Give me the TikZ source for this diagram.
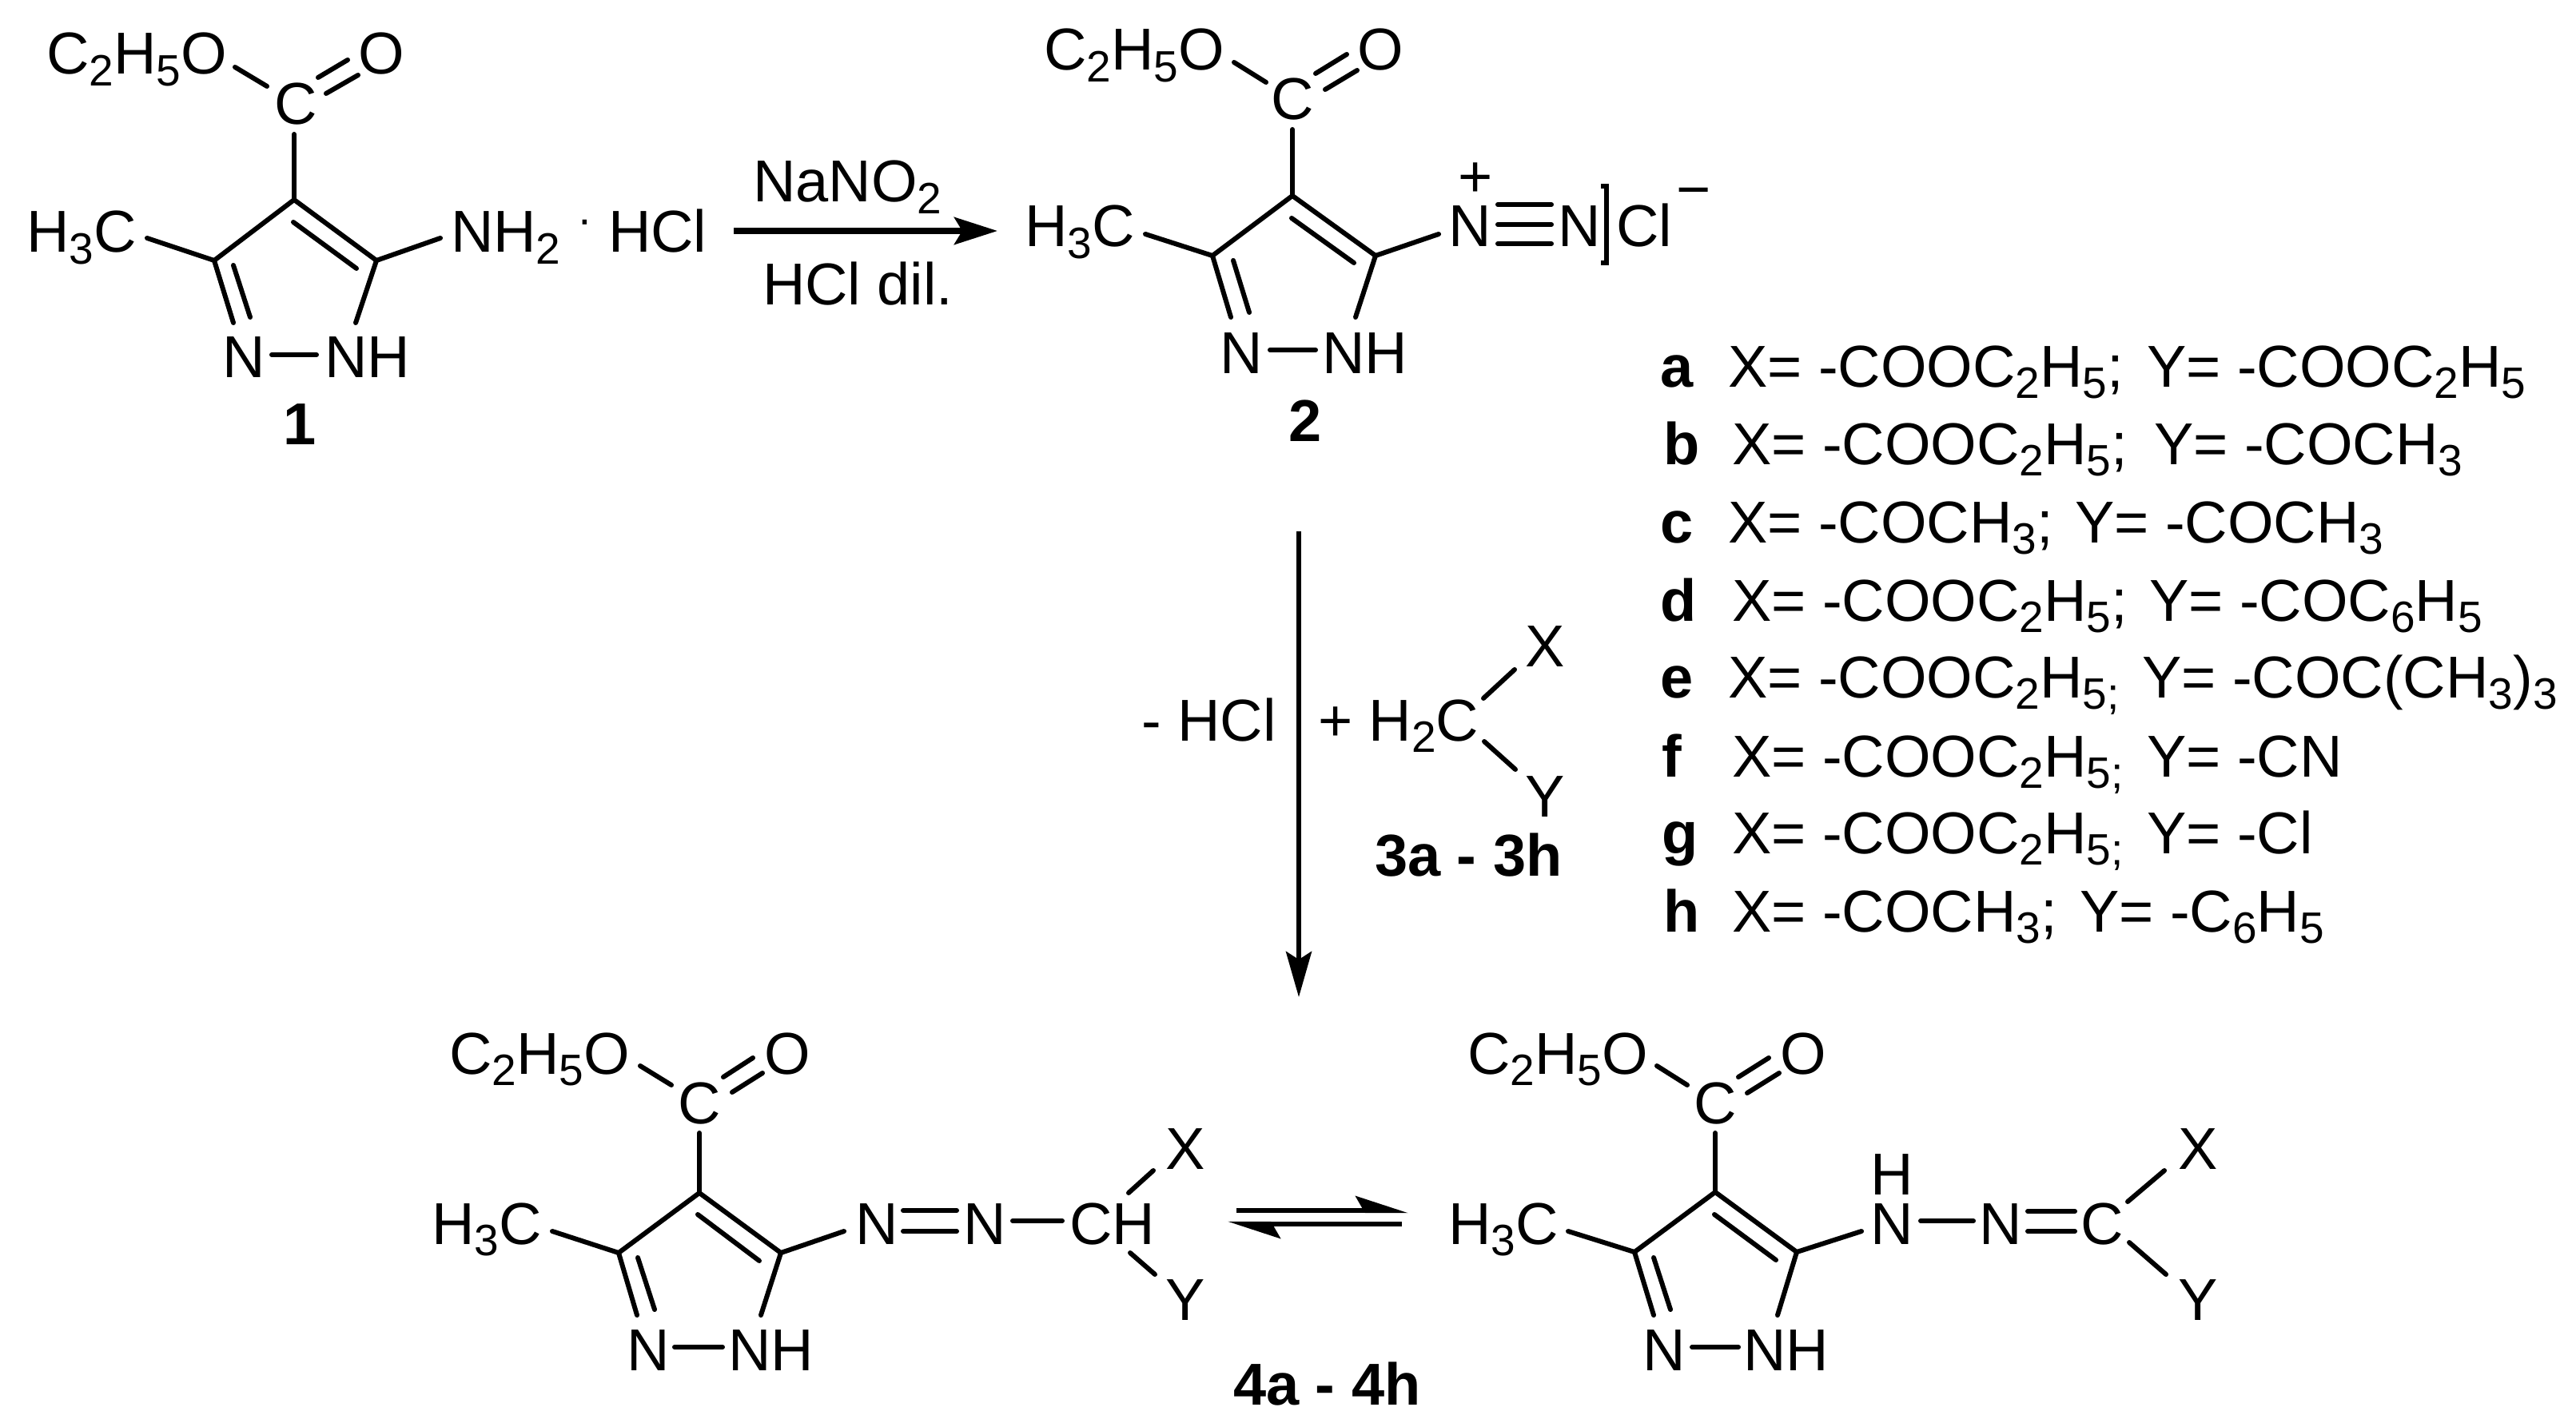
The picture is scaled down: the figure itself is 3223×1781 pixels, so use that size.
\documentclass[tikz,border=0pt]{standalone}
\usepackage{fontspec}
\setmainfont{Liberation Sans}
\usetikzlibrary{arrows.meta}
\newcommand{\sbs}[1]{\raisebox{-0.19em}{\fontsize{27.5}{27.5}\selectfont #1}}
\tikzset{
  lab/.style={anchor=base west,inner sep=0pt,outer sep=0pt,font=\fontsize{37}{37}\selectfont},
  clab/.style={lab,anchor=base},
  blab/.style={lab,font=\fontsize{37}{37}\selectfont\bfseries},
  cblab/.style={blab,anchor=base},
  bond/.style={line width=3pt,line cap=round,line join=round},
  rxn/.style={line width=3.8pt,-{Stealth[length=27pt,width=17pt,inset=5pt]}},
  rxnv/.style={line width=3.2pt,-{Stealth[length=28.5pt,width=16pt,inset=5pt]}},
  eqm/.style={line width=3.2pt,-{Stealth[length=28pt,width=18pt,inset=5pt,harpoon]}},
}
\begin{document}
\begin{tikzpicture}[x=0.5pt,y=-0.5pt]
\useasboundingbox (0,0) rectangle (3223,1781);

% ---- compound 1
\node[lab] (ma) at (58,93) {C\sbs{2}H\sbs{5}O};
\node[lab] (mb) at (448,93) {O};
\node[lab] (mc) at (343,156) {C};
\node[lab] (md) at (33,316) {H\sbs{3}C};
\node[lab] (me) at (564,316) {NH\sbs{2}};
\node[clab,font=\fontsize{28}{28}\selectfont] (mdot) at (732,294) {·};
\node[lab] (mf) at (761,316) {HCl};
\node[lab] (mg) at (278,473) {N};
\node[lab] (mh) at (406,473) {NH};
\node[cblab] (mi) at (375,556) {1};
\coordinate (aT) at (368,250); \coordinate (aL) at (268,326); \coordinate (aR) at (471,326);
\coordinate (a1) at (294,84); \coordinate (a2) at (334,108);
\coordinate (a3) at (398,97); \coordinate (a4) at (435,75);
\coordinate (a5) at (408,117); \coordinate (a6) at (448,94);
\coordinate (a7) at (368,168);
\coordinate (a8) at (292,404); \coordinate (a9) at (292,332); \coordinate (a10) at (313,397);
\coordinate (a11) at (445,404);
\coordinate (a12) at (367,278); \coordinate (a13) at (446,336);
\coordinate (a14) at (184,298); \coordinate (a15) at (551,298);
\coordinate (a16) at (340,444); \coordinate (a17) at (396,444);
\draw[bond] (a1)--(a2); \draw[bond] (a3)--(a4); \draw[bond] (a5)--(a6);
\draw[bond] (a7)--(aT); \draw[bond] (aT)--(aL); \draw[bond] (aT)--(aR);
\draw[bond] (aL)--(a8); \draw[bond] (a9)--(a10); \draw[bond] (aR)--(a11);
\draw[bond] (a12)--(a13); \draw[bond] (a14)--(aL); \draw[bond] (aR)--(a15);
\draw[bond] (a16)--(a17);

% ---- reaction arrow 1
\node[lab] (ra) at (942,253) {NaNO\sbs{2}};
\node[lab] (rb) at (954,382) {HCl dil.};
\coordinate (r1) at (918,289); \coordinate (r2) at (1248,289);
\draw[rxn] (r1)--(r2);

% ---- compound 2
\node[lab] (na) at (1306,88) {C\sbs{2}H\sbs{5}O};
\node[lab] (nb) at (1698,88) {O};
\node[lab] (nc) at (1590,150) {C};
\node[lab] (nd) at (1282,309) {H\sbs{3}C};
\node[lab] (ne) at (1812,309) {N};
\node[lab] (nf) at (1949,309) {N};
\node[lab] (ng) at (2022,309) {Cl};
\node[clab] (nh) at (1846,247) {+};
\node[clab] (ni) at (2119,263) {−};
\node[lab] (nj) at (1526,467) {N};
\node[lab] (nk) at (1654,467) {NH};
\node[cblab] (nl) at (1633,552) {2};
\coordinate (bT) at (1617,245); \coordinate (bL) at (1517,320); \coordinate (bR) at (1721,320);
\coordinate (b1) at (1544,78); \coordinate (b2) at (1584,103);
\coordinate (b3) at (1646,92); \coordinate (b4) at (1685,68);
\coordinate (b5) at (1658,112); \coordinate (b6) at (1698,88);
\coordinate (b7) at (1617,162);
\coordinate (b8) at (1540,397); \coordinate (b9) at (1543,326); \coordinate (b10) at (1563,391);
\coordinate (b11) at (1696,397);
\coordinate (b12) at (1616,273); \coordinate (b13) at (1694,329);
\coordinate (b14) at (1433,293); \coordinate (b15) at (1800,293);
\coordinate (b16) at (1589,438); \coordinate (b17) at (1646,438);
\coordinate (b18) at (1874,256); \coordinate (b19) at (1941,256);
\coordinate (b20) at (1874,281); \coordinate (b21) at (1941,281);
\coordinate (b22) at (1874,305); \coordinate (b23) at (1941,305);
\draw[bond] (b1)--(b2); \draw[bond] (b3)--(b4); \draw[bond] (b5)--(b6);
\draw[bond] (b7)--(bT); \draw[bond] (bT)--(bL); \draw[bond] (bT)--(bR);
\draw[bond] (bL)--(b8); \draw[bond] (b9)--(b10); \draw[bond] (bR)--(b11);
\draw[bond] (b12)--(b13); \draw[bond] (b14)--(bL); \draw[bond] (bR)--(b15);
\draw[bond] (b16)--(b17);
\draw[bond] (b18)--(b19); \draw[bond] (b20)--(b21); \draw[bond] (b22)--(b23);
\draw[line width=3pt,line cap=butt,line join=miter] (2003,233)--(2010,233)--(2010,329)--(2003,329);

% ---- substituent table
\node[blab] (ta) at (2077,484) {a};
\node[lab] (tax) at (2162,484) {X= -COOC\sbs{2}H\sbs{5};};
\node[lab] (tay) at (2686,484) {Y= -COOC\sbs{2}H\sbs{5}};
\node[blab] (tb) at (2081,581) {b};
\node[lab] (tbx) at (2167,581) {X= -COOC\sbs{2}H\sbs{5};};
\node[lab] (tby) at (2695,581) {Y= -COCH\sbs{3}};
\node[blab] (tc) at (2077,679) {c};
\node[lab] (tcx) at (2162,679) {X= -COCH\sbs{3};};
\node[lab] (tcy) at (2596,679) {Y= -COCH\sbs{3}};
\node[blab] (td) at (2077,777) {d};
\node[lab] (tdx) at (2167,777) {X= -COOC\sbs{2}H\sbs{5};};
\node[lab] (tdy) at (2689,777) {Y= -COC\sbs{6}H\sbs{5}};
\node[blab] (te) at (2077,873) {e};
\node[lab] (tex) at (2162,873) {X= -COOC\sbs{2}H\sbs{5;}};
\node[lab] (tey) at (2680,873) {Y= -COC(CH\sbs{3})\sbs{3}};
\node[blab] (tf) at (2079,972) {f};
\node[lab] (tfx) at (2167,972) {X= -COOC\sbs{2}H\sbs{5;}};
\node[lab] (tfy) at (2686,972) {Y= -CN};
\node[blab] (tg) at (2079,1068) {g};
\node[lab] (tgx) at (2167,1068) {X= -COOC\sbs{2}H\sbs{5;}};
\node[lab] (tgy) at (2686,1068) {Y= -Cl};
\node[blab] (th) at (2081,1166) {h};
\node[lab] (thx) at (2167,1166) {X= -COCH\sbs{3};};
\node[lab] (thy) at (2602,1166) {Y= -C\sbs{6}H\sbs{5}};

% ---- vertical arrow and reagent 3
\coordinate (v1) at (1625,665); \coordinate (v2) at (1625,1248);
\draw[rxnv] (v1)--(v2);
\node[lab] (pa) at (1428,927) {- HCl};
\node[lab] (pb) at (1649,927) {+ H\sbs{2}C};
\node[lab] (pc) at (1908,834) {X};
\node[lab] (pd) at (1908,1022) {Y};
\node[blab] (pe) at (1720,1096) {3a - 3h};
\coordinate (p1) at (1856,874); \coordinate (p2) at (1895,838);
\coordinate (p3) at (1857,928); \coordinate (p4) at (1896,963);
\draw[bond] (p1)--(p2); \draw[bond] (p3)--(p4);

% ---- compound 4, azo form
\node[lab] (qa) at (562,1344) {C\sbs{2}H\sbs{5}O};
\node[lab] (qb) at (956,1344) {O};
\node[lab] (qc) at (848,1406) {C};
\node[lab] (qd) at (540,1557) {H\sbs{3}C};
\node[lab] (qe) at (1070,1557) {N};
\node[lab] (qf) at (1205,1557) {N};
\node[lab] (qg) at (1338,1557) {CH};
\node[lab] (qh) at (1458,1463) {X};
\node[lab] (qi) at (1458,1652) {Y};
\node[lab] (qj) at (784,1715) {N};
\node[lab] (qk) at (911,1715) {NH};
\node[blab] (ql) at (1543,1758) {4a - 4h};
\coordinate (cT) at (875,1493); \coordinate (cL) at (774,1568); \coordinate (cR) at (977,1568);
\coordinate (c1) at (801,1334); \coordinate (c2) at (840,1358);
\coordinate (c3) at (905,1348); \coordinate (c4) at (942,1324);
\coordinate (c5) at (916,1367); \coordinate (c6) at (954,1343);
\coordinate (c7) at (875,1418);
\coordinate (c8) at (797,1646); \coordinate (c9) at (798,1574); \coordinate (c10) at (819,1639);
\coordinate (c11) at (952,1646);
\coordinate (c12) at (873,1520); \coordinate (c13) at (950,1578);
\coordinate (c14) at (691,1541); \coordinate (c15) at (1056,1541);
\coordinate (c16) at (844,1686); \coordinate (c17) at (904,1686);
\coordinate (c18) at (1130,1515); \coordinate (c19) at (1197,1515);
\coordinate (c20) at (1130,1541); \coordinate (c21) at (1197,1541);
\coordinate (c22) at (1267,1528); \coordinate (c23) at (1329,1528);
\coordinate (c24) at (1412,1493); \coordinate (c25) at (1443,1465);
\coordinate (c26) at (1414,1568); \coordinate (c27) at (1445,1595);
\draw[bond] (c1)--(c2); \draw[bond] (c3)--(c4); \draw[bond] (c5)--(c6);
\draw[bond] (c7)--(cT); \draw[bond] (cT)--(cL); \draw[bond] (cT)--(cR);
\draw[bond] (cL)--(c8); \draw[bond] (c9)--(c10); \draw[bond] (cR)--(c11);
\draw[bond] (c12)--(c13); \draw[bond] (c14)--(cL); \draw[bond] (cR)--(c15);
\draw[bond] (c16)--(c17); \draw[bond] (c18)--(c19); \draw[bond] (c20)--(c21);
\draw[bond] (c22)--(c23); \draw[bond] (c24)--(c25); \draw[bond] (c26)--(c27);

% ---- equilibrium
\coordinate (e1) at (1547,1515); \coordinate (e2) at (1762,1515);
\coordinate (e3) at (1754,1532); \coordinate (e4) at (1536,1532);
\draw[eqm] (e1)--(e2);
\draw[eqm] (e3)--(e4);

% ---- compound 4, hydrazone form
\node[lab] (sa) at (1836,1344) {C\sbs{2}H\sbs{5}O};
\node[lab] (sb) at (2227,1344) {O};
\node[lab] (sc) at (2119,1406) {C};
\node[lab] (sd) at (1812,1557) {H\sbs{3}C};
\node[lab] (se) at (2340,1495) {H};
\node[lab] (sf) at (2340,1557) {N};
\node[lab] (sg) at (2476,1557) {N};
\node[lab] (sh) at (2603,1557) {C};
\node[lab] (si) at (2725,1463) {X};
\node[lab] (sj) at (2725,1652) {Y};
\node[lab] (sk) at (2055,1715) {N};
\node[lab] (sl) at (2181,1715) {NH};
\coordinate (dT) at (2146,1492); \coordinate (dL) at (2045,1567); \coordinate (dR) at (2248,1567);
\coordinate (d1) at (2073,1334); \coordinate (d2) at (2111,1358);
\coordinate (d3) at (2175,1348); \coordinate (d4) at (2213,1324);
\coordinate (d5) at (2186,1368); \coordinate (d6) at (2226,1343);
\coordinate (d7) at (2146,1418);
\coordinate (d8) at (2069,1646); \coordinate (d9) at (2069,1574); \coordinate (d10) at (2090,1639);
\coordinate (d11) at (2224,1646);
\coordinate (d12) at (2145,1520); \coordinate (d13) at (2222,1577);
\coordinate (d14) at (1962,1541); \coordinate (d15) at (2329,1541);
\coordinate (d16) at (2117,1686); \coordinate (d17) at (2175,1686);
\coordinate (d18) at (2403,1528); \coordinate (d19) at (2469,1528);
\coordinate (d20) at (2537,1516); \coordinate (d21) at (2596,1516);
\coordinate (d22) at (2537,1541); \coordinate (d23) at (2596,1541);
\coordinate (d24) at (2662,1504); \coordinate (d25) at (2708,1465);
\coordinate (d26) at (2664,1555); \coordinate (d27) at (2710,1595);
\draw[bond] (d1)--(d2); \draw[bond] (d3)--(d4); \draw[bond] (d5)--(d6);
\draw[bond] (d7)--(dT); \draw[bond] (dT)--(dL); \draw[bond] (dT)--(dR);
\draw[bond] (dL)--(d8); \draw[bond] (d9)--(d10); \draw[bond] (dR)--(d11);
\draw[bond] (d12)--(d13); \draw[bond] (d14)--(dL); \draw[bond] (dR)--(d15);
\draw[bond] (d16)--(d17); \draw[bond] (d18)--(d19); \draw[bond] (d20)--(d21);
\draw[bond] (d22)--(d23); \draw[bond] (d24)--(d25); \draw[bond] (d26)--(d27);
\end{tikzpicture}
\end{document}
